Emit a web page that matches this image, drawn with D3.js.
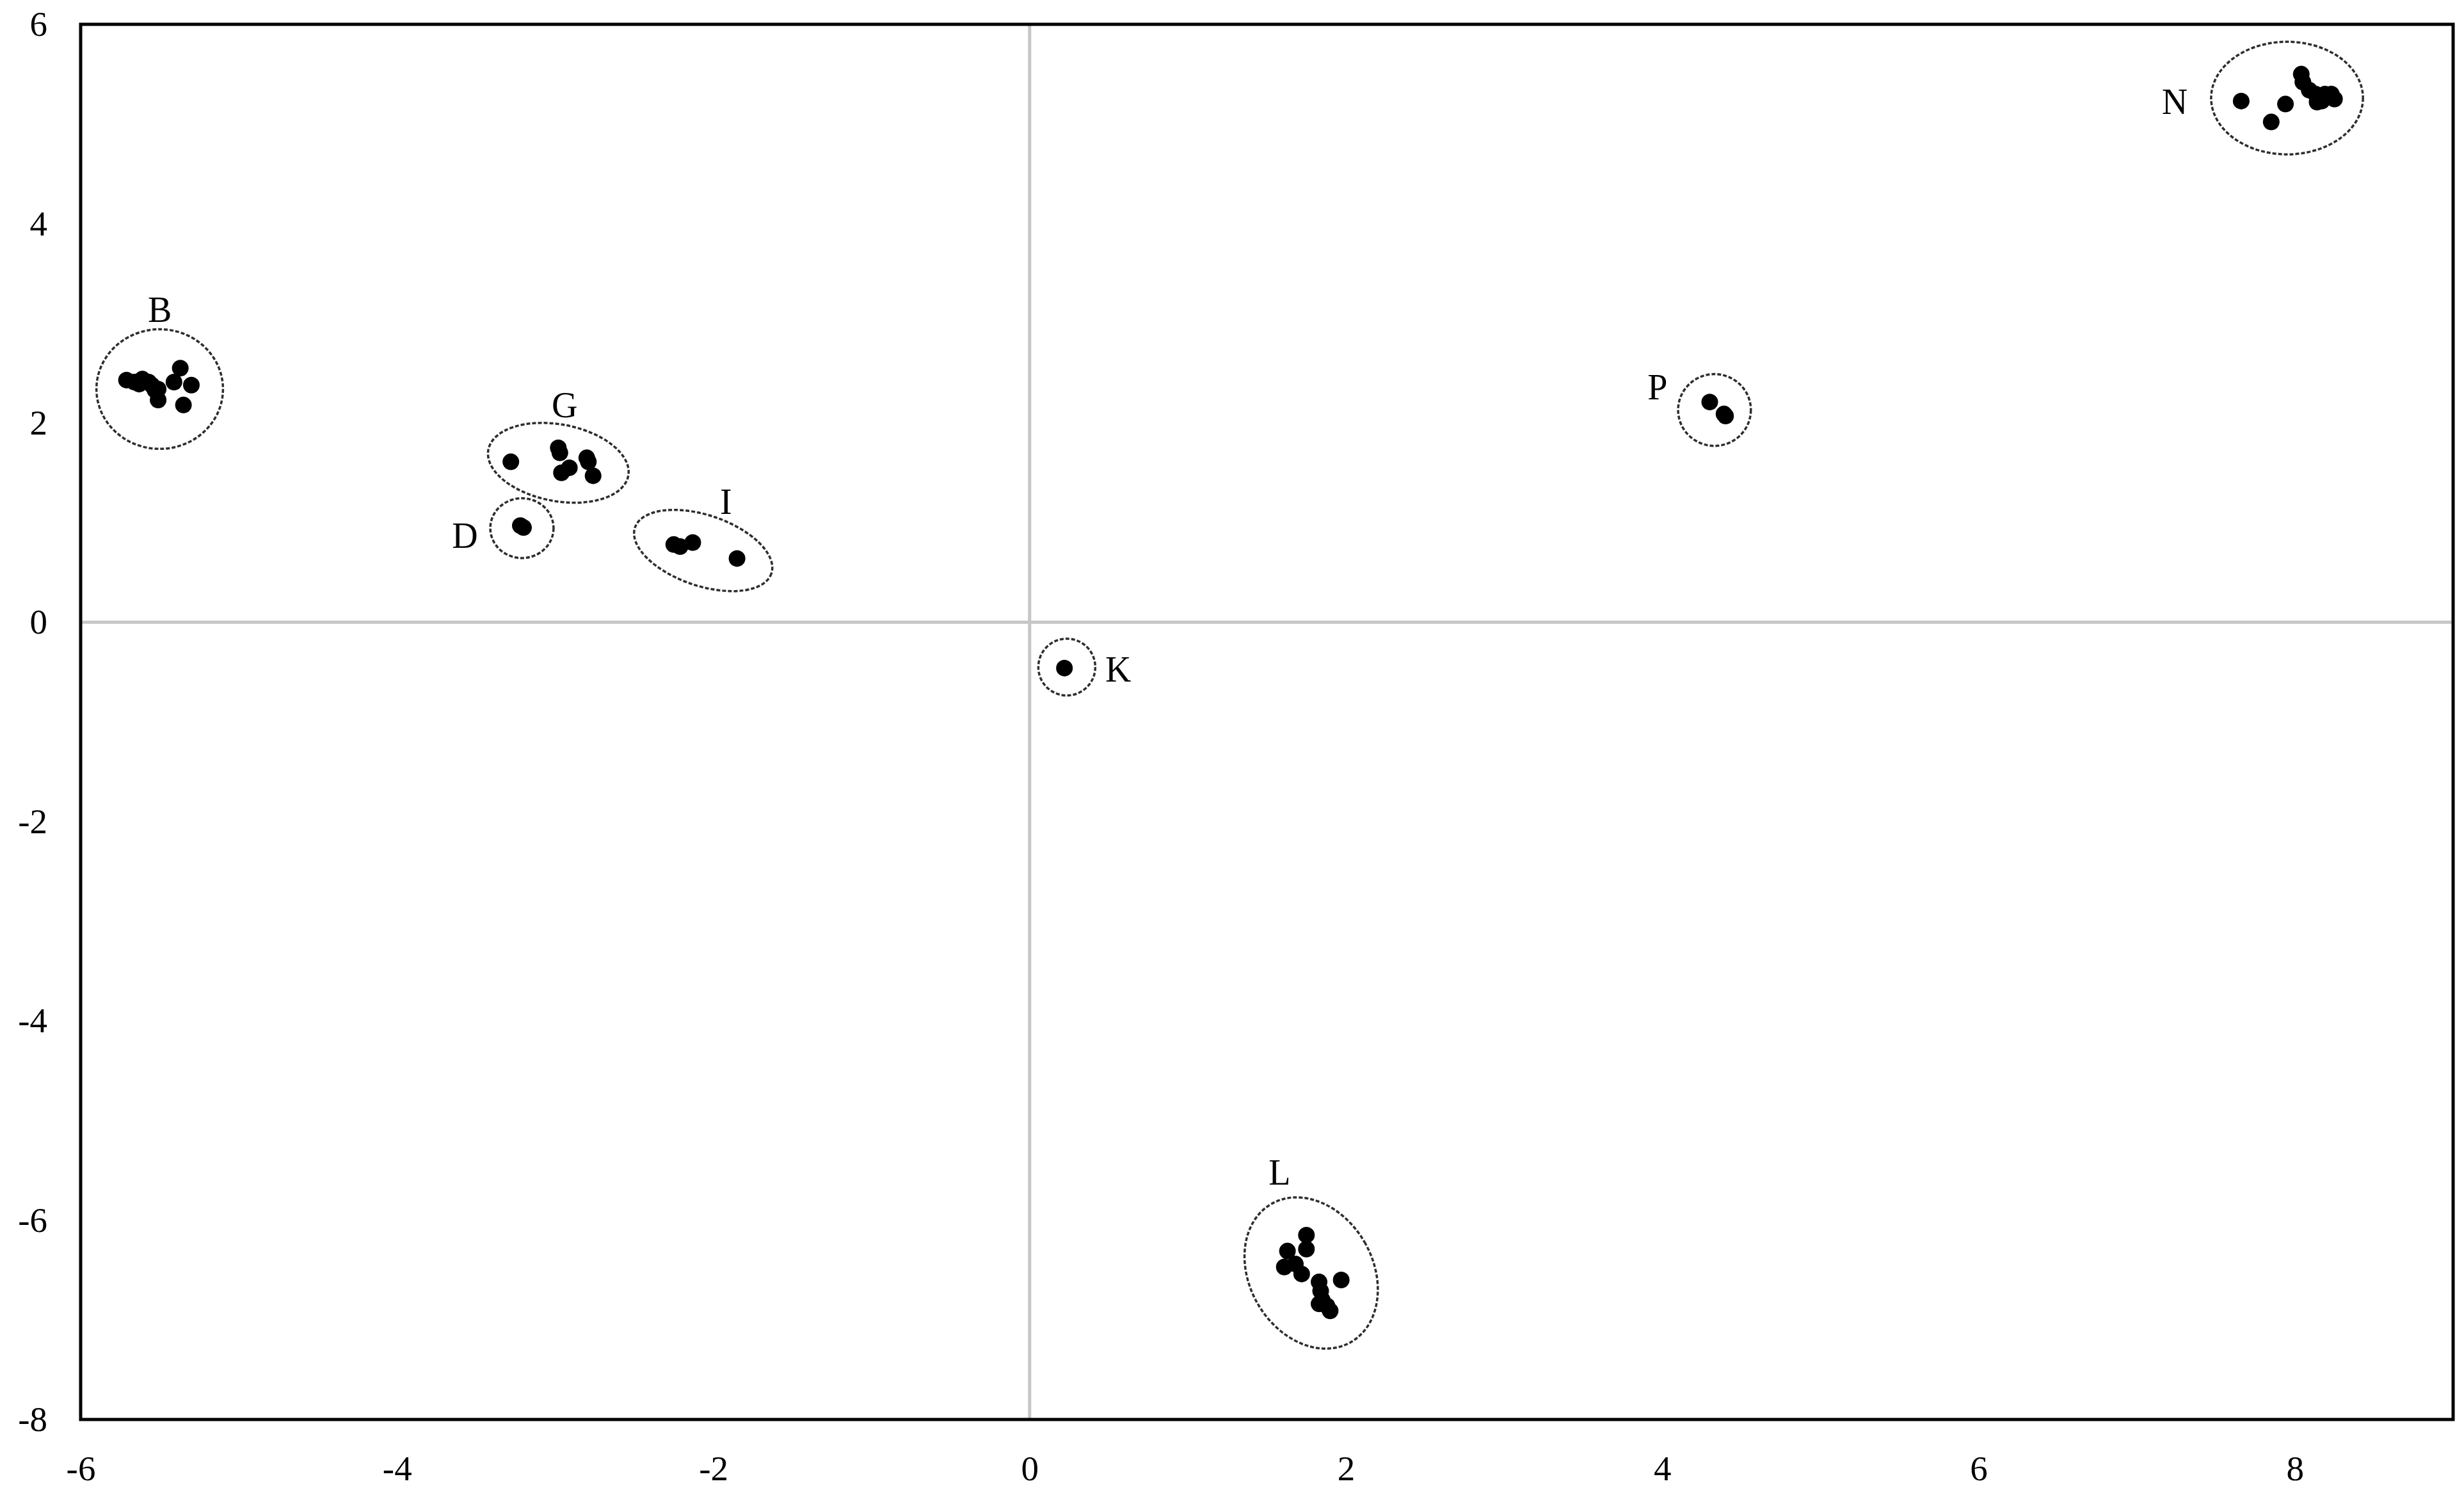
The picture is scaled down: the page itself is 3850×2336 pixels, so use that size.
<!DOCTYPE html>
<html>
<head>
<meta charset="utf-8">
<script src="https://cdn.jsdelivr.net/npm/d3@7"></script>
<style>
  html, body { margin: 0; padding: 0; background: #ffffff; }
  svg { display: block; }
</style>
</head>
<body>
<svg id="chart" width="3850" height="2336"></svg>
<script>
// ---------------- DATA ----------------
const xTicks = [-6, -4, -2, 0, 2, 4, 6, 8];
const yTicks = [6, 4, 2, 0, -2, -4, -6, -8];
const xDomain = [-6, 9];
const yDomain = [-8, 6];

const groupNames = ["B", "D", "G", "I", "K", "L", "N", "P"];

// points per group [x, y]
const pointsB = [[-5.71, 2.43], [-5.66, 2.41], [-5.63, 2.39], [-5.61, 2.44], [-5.57, 2.41], [-5.55, 2.38],
                 [-5.53, 2.33], [-5.51, 2.34], [-5.51, 2.23], [-5.41, 2.41], [-5.37, 2.55], [-5.30, 2.38], [-5.35, 2.18]];
const pointsD = [[-3.22, 0.97], [-3.20, 0.95]];
const pointsG = [[-3.28, 1.61], [-2.98, 1.75], [-2.97, 1.70], [-2.80, 1.65], [-2.79, 1.61],
                 [-2.96, 1.50], [-2.91, 1.55], [-2.76, 1.47]];
const pointsI = [[-2.25, 0.78], [-2.21, 0.76], [-2.13, 0.80], [-1.85, 0.64]];
const pointsK = [[0.22, -0.46]];
const pointsL = [[1.75, -6.15], [1.75, -6.29], [1.63, -6.31], [1.61, -6.47], [1.68, -6.44], [1.72, -6.54],
                 [1.83, -6.62], [1.84, -6.71], [1.97, -6.60], [1.83, -6.84], [1.85, -6.80], [1.88, -6.86], [1.90, -6.91]];
const pointsN = [[7.66, 5.23], [7.94, 5.20], [7.85, 5.02], [8.04, 5.50], [8.05, 5.42], [8.09, 5.34],
                 [8.13, 5.30], [8.14, 5.22], [8.19, 5.30], [8.23, 5.30], [8.25, 5.25], [8.17, 5.23]];
const pointsP = [[4.30, 2.21], [4.39, 2.09], [4.40, 2.07]];

// group ellipses: centre (data), half-extent along x and y (data units), tilt in degrees
const ellipseCx    = [-5.50, -3.21, -2.98, -2.064, 0.235, 1.78, 7.95, 4.33];
const ellipseCy    = [ 2.34,  0.944, 1.60,  0.72, -0.45, -6.53, 5.26, 2.13];
const ellipseRx    = [ 0.40,  0.20,  0.45,  0.455, 0.18,  0.39, 0.48, 0.23];
const ellipseRy    = [ 0.60,  0.30,  0.385, 0.355, 0.285, 0.80, 0.565, 0.36];
const ellipseAngle = [ 0,     0,     10.5,  18.6,  0,   -30,   0,    0];

// group label positions (data)
const labelX = [-5.50, -3.57, -2.94, -1.92, 0.56, 1.58, 7.24, 3.97];
const labelY = [ 3.14,  0.87,  2.18,  1.21, -0.47, -5.52, 5.23, 2.36];

const groupPoints = [pointsB, pointsD, pointsG, pointsI, pointsK, pointsL, pointsN, pointsP];

// ---------------- CHART ----------------
const W = 3850, H = 2336;
const margin = { top: 38, right: 17, bottom: 118, left: 126 };
const innerW = W - margin.left - margin.right;
const innerH = H - margin.top - margin.bottom;

const svg = d3.select("#chart");
const g = svg.append("g").attr("transform", `translate(${margin.left},${margin.top})`);

const x = d3.scaleLinear().domain(xDomain).range([0, innerW]);
const y = d3.scaleLinear().domain(yDomain).range([innerH, 0]);
const pxPerX = x(1) - x(0);
const pxPerY = y(0) - y(1);

const fontFamily = "'Liberation Serif', 'Times New Roman', serif";

// zero lines
g.append("line")
  .attr("x1", x(0)).attr("x2", x(0))
  .attr("y1", 0).attr("y2", innerH)
  .attr("stroke", "#c6c6c6").attr("stroke-width", 5);
g.append("line")
  .attr("x1", 0).attr("x2", innerW)
  .attr("y1", y(0)).attr("y2", y(0))
  .attr("stroke", "#c6c6c6").attr("stroke-width", 5);

// frame
g.append("rect")
  .attr("x", 0).attr("y", 0)
  .attr("width", innerW).attr("height", innerH)
  .attr("fill", "none").attr("stroke", "#000").attr("stroke-width", 5);

// axes
const xAxis = g.append("g")
  .attr("transform", `translate(0,${innerH})`)
  .call(d3.axisBottom(x).tickValues(xTicks).tickSize(0).tickPadding(56).tickFormat(d3.format("d")));
const yAxis = g.append("g")
  .call(d3.axisLeft(y).tickValues(yTicks).tickSize(0).tickPadding(52).tickFormat(d3.format("d")));
[xAxis, yAxis].forEach(a => {
  a.select(".domain").remove();
  a.selectAll("text")
    .attr("font-family", fontFamily)
    .attr("font-size", 55)
    .attr("fill", "#000");
});
// use hyphen-minus like the reference
xAxis.selectAll("text").text(d => String(d));
yAxis.selectAll("text").text(d => String(d));

// ellipses
groupNames.forEach((name, i) => {
  g.append("ellipse")
    .attr("cx", 0).attr("cy", 0)
    .attr("rx", ellipseRx[i] * pxPerX)
    .attr("ry", ellipseRy[i] * pxPerY)
    .attr("transform", `translate(${x(ellipseCx[i])},${y(ellipseCy[i])}) rotate(${ellipseAngle[i]})`)
    .attr("fill", "none")
    .attr("stroke", "#2e2e2e")
    .attr("stroke-width", 3.5)
    .attr("stroke-dasharray", "6,3");
});

// points
groupPoints.forEach(pts => {
  g.selectAll(null)
    .data(pts)
    .enter().append("circle")
    .attr("cx", d => x(d[0]))
    .attr("cy", d => y(d[1]))
    .attr("r", 13)
    .attr("fill", "#000");
});

// group labels
groupNames.forEach((name, i) => {
  g.append("text")
    .attr("x", x(labelX[i]))
    .attr("y", y(labelY[i]))
    .attr("dy", "0.35em")
    .attr("text-anchor", "middle")
    .attr("font-family", fontFamily)
    .attr("font-size", 56)
    .attr("fill", "#000")
    .text(name);
});
</script>
</body>
</html>
